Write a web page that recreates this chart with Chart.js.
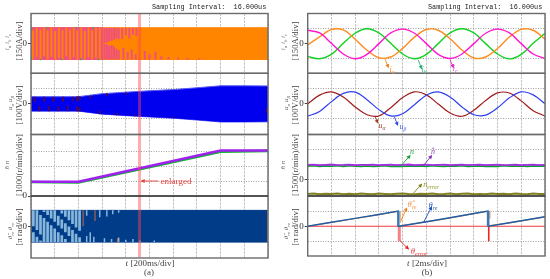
<!DOCTYPE html>
<html>
<head>
<meta charset="utf-8">
<script src="https://cdn.jsdelivr.net/npm/chart.js@4"></script>
<style>
  html, body { margin: 0; padding: 0; background: #fff; }
  #page { position: relative; width: 550px; height: 279px; overflow: hidden; }
  canvas { position: absolute; top: 0; }
  .t { position: absolute; white-space: nowrap; font-family: "Liberation Serif", serif; color: #444; transform: translate(-50%, -50%); line-height: 1; }
  .t sub { font-size: 70%; vertical-align: -2px; line-height: 0; }
  .rot { transform: translate(-50%, -50%) rotate(-90deg); }
  .mono { font-family: "Liberation Mono", monospace; font-size: 6.8px; color: #222; transform: translateY(-50%); }
</style>
</head>
<body>
<div id="page">
  <canvas id="chart-a" width="275" height="279" style="left:0"></canvas>
  <canvas id="chart-b" width="275" height="279" style="left:275px"></canvas>

  <div class="t mono" style="left:152px;top:7px">Sampling Interval:&nbsp;&nbsp;16.000us</div>
  <div class="t mono" style="left:428px;top:7px">Sampling Interval:&nbsp;&nbsp;16.000us</div>

  <div class="t rot" style="left:7px;top:42px;font-size:7px;color:#666"><i>i<sub>a</sub> i<sub>b</sub> i<sub>c</sub></i></div>
  <div class="t rot" style="left:19px;top:41px;font-size:8.8px">[150A/div]</div>
  <div class="t rot" style="left:10px;top:103px;font-size:7px;color:#666"><i>u<sub>α</sub> u<sub>β</sub></i></div>
  <div class="t rot" style="left:19px;top:105px;font-size:8.8px">[100V/div]</div>
  <div class="t rot" style="left:7px;top:165px;font-size:7px;color:#666"><i>n̂ n</i></div>
  <div class="t rot" style="left:19px;top:165px;font-size:8.8px">[1000(r/min)/div]</div>
  <div class="t rot" style="left:10px;top:231px;font-size:7px;color:#666"><i>θ̂<sub>re</sub> θ<sub>re</sub></i></div>
  <div class="t rot" style="left:19px;top:227px;font-size:8.8px">[π rad/div]</div>

  <div class="t rot" style="left:283px;top:42px;font-size:7px;color:#666"><i>i<sub>a</sub> i<sub>b</sub> i<sub>c</sub></i></div>
  <div class="t rot" style="left:295px;top:41px;font-size:8.8px">[150A/div]</div>
  <div class="t rot" style="left:286px;top:103px;font-size:7px;color:#666"><i>u<sub>α</sub> u<sub>β</sub></i></div>
  <div class="t rot" style="left:295px;top:105px;font-size:8.8px">[100V/div]</div>
  <div class="t rot" style="left:283px;top:165px;font-size:7px;color:#666"><i>n̂ n</i></div>
  <div class="t rot" style="left:295px;top:165px;font-size:8.8px">[1500(r/min)/div]</div>
  <div class="t rot" style="left:286px;top:231px;font-size:7px;color:#666"><i>θ̂<sub>re</sub> θ<sub>re</sub></i></div>
  <div class="t rot" style="left:295px;top:227px;font-size:8.8px">[π rad/div]</div>

  <div class="t" style="left:176px;top:181px;font-size:9px;color:#e8403a">enlarged</div>
  <div class="t" style="left:150px;top:263px;font-size:9px"><i>t</i> [200ms/div]</div>
  <div class="t" style="left:149px;top:272px;font-size:9px">(a)</div>
  <div class="t" style="left:427px;top:263px;font-size:9px"><i>t</i> [2ms/div]</div>
  <div class="t" style="left:427px;top:272px;font-size:9px">(b)</div>

  <div class="t" style="left:392px;top:70px;font-size:8px;color:#f08a30"><i>i<sub>a</sub></i></div>
  <div class="t" style="left:424px;top:70px;font-size:8px;color:#30b080"><i>i<sub>b</sub></i></div>
  <div class="t" style="left:455px;top:69px;font-size:8px;color:#e040c0"><i>i<sub>c</sub></i></div>
  <div class="t" style="left:382px;top:126px;font-size:8px;color:#a04030"><i>u<sub>α</sub></i></div>
  <div class="t" style="left:403px;top:127px;font-size:8px;color:#4060e0"><i>u<sub>β</sub></i></div>
  <div class="t" style="left:412px;top:152px;font-size:8px;color:#20a040"><i>n</i></div>
  <div class="t" style="left:433px;top:152px;font-size:8px;color:#9040c0"><i>n̂</i></div>
  <div class="t" style="left:431px;top:185px;font-size:8px;color:#909030"><i>n<sub>error</sub></i></div>
  <div class="t" style="left:412px;top:204px;font-size:8.5px;color:#f09040"><i>θ̂<sub>re</sub></i></div>
  <div class="t" style="left:433px;top:205px;font-size:8.5px;color:#3060c0"><i>θ<sub>re</sub></i></div>
  <div class="t" style="left:419px;top:251px;font-size:8.5px;color:#e83030"><i>θ<sub>error</sub></i></div>
</div>

<script>
  // time axis samples, in divisions
  const halfDivs = [0, .5, 1, 1.5, 2, 2.5, 3, 3.5, 4, 4.5, 5, 5.5, 6, 6.5, 7, 7.5, 8, 8.5, 9, 9.5, 10];
  const quarterDivs = [0, .25, .5, .75, 1, 1.25, 1.5, 1.75, 2, 2.25, 2.5, 2.75, 3, 3.25, 3.5, 3.75, 4, 4.25, 4.5, 4.75, 5,
    5.25, 5.5, 5.75, 6, 6.25, 6.5, 6.75, 7, 7.25, 7.5, 7.75, 8, 8.25, 8.5, 8.75, 9, 9.25, 9.5, 9.75, 10];

  // (a) currents: envelope, then stripes as [t, low, high]
  const currentT = [0, 10];
  const currentUpper = [1.07, 1.07];
  const currentLower = [-1.07, -1.07];
  const pinkT = [0, 3.05];
  const pinkUpper = [1.07, 1.07];
  const pinkLower = [-1.07, -1.07];
  const orangeStripes = [
    [.08, -1.07, .9], [.24, -.9, 1.07], [.4, -1.07, .95], [.55, -.85, 1.07], [.7, -1.07, .9], [.86, -.9, 1.07], [1.02, -1.07, .85],
    [1.18, -.95, 1.07], [1.33, -1.07, .9], [1.49, -.85, 1.07], [1.65, -1.07, .95], [1.8, -.9, 1.07], [1.96, -1.07, .9], [2.12, -.95, 1.07],
    [2.27, -1.07, .85], [2.43, -.9, 1.07], [2.58, -1.07, .9], [2.74, -.95, 1.07], [2.9, -1.07, 1.07]
  ];
  const pinkStripes = [
    [3.1, .02, 1.07], [3.2, .08, 1.07], [3.3, .15, 1.07], [3.4, .2, 1.07], [3.5, .25, 1.07], [3.6, .35, 1.07], [3.7, .3, 1.07],
    [3.1, -1.07, -.02], [3.2, -1.07, -.05], [3.3, -1.07, -.15], [3.4, -1.07, -.1], [3.5, -1.07, -.2], [3.6, -1.07, -.35], [3.7, -1.07, -.45],
    [3.85, .3, 1.07], [4, .55, 1.07], [4.15, .35, 1.07], [4.3, .6, 1.07], [4.45, .5, 1.07], [3.9, -1.07, -.3], [4.08, -1.07, -.55],
    [4.25, -1.07, -.4], [4.42, -1.07, -.7], [4.8, -1.07, -.5], [5, -1.07, -.7], [5.25, -1.07, -.55], [5.5, -1.07, -.85], [5.8, -1.07, -.9],
    [6.2, -1.07, -.95], [6.6, -1.07, -.97], [7.1, -1.07, -.98]
  ];
  const greenDots = [
    [.02, .85, 1.12], [.02, -1.12, -.85], [.7, 1, 1.12], [1.3, -1.12, -1], [1.9, 1, 1.12], [2.6, 1, 1.12], [.4, -1.12, -1], [2.1, -1.12, -1], [2.85, -1.12, -1]
  ];

  // (a) voltages
  const voltageT = [0, 2, 2.5, 3, 4, 5, 6, 7, 8, 9, 10];
  const voltageUpper = [.48, .48, .58, .68, .78, .87, .95, 1.07, 1.2, 1.2, 1.19];
  const voltageLower = [-.48, -.48, -.58, -.68, -.78, -.87, -.95, -1.07, -1.2, -1.2, -1.19];
  const maroonStripes = [
    [.15, .12, .48], [.35, -.48, -.15], [.55, .15, .48], [.75, -.48, -.12], [.95, .12, .48], [1.15, -.48, -.15], [1.35, .15, .48], [1.55, -.48, -.12],
    [1.75, .18, .48], [1.95, .18, .5], [2.05, .22, .5], [1.95, -.5, -.18], [2.05, -.5, -.22], [2.5, .35, .55], [2.9, -.68, -.45],
    [3.2, .5, .7], [3.6, -.76, -.6], [4, .62, .78], [4.4, -.82, -.7], [6, -.95, -.85], [9.95, -.6, -.3]
  ];

  // (a) speed
  const speedEstT = [0, 2, 8, 10];
  const speedEst = [.95, .95, 3.03, 3.03];
  const speedT = [0, 2, 8, 10];
  const speedReal = [.93, .9, 2.95, 3.01];

  // (a) rotor angle
  const angleT = [0, 10];
  const angleUpper = [1.05, 1.05];
  const angleLower = [-1.05, -1.05];
  const lightStripes = [
    [.1, 0, 1.05], [.1, -1.05, -.4], [.25, -.25, 1.05], [.25, -1.05, -.7], [.4, -.55, .75], [.4, -1.05, -.95],
    [.55, -1.05, .55], [.55, .95, 1.05], [.7, -1.05, .3], [.7, .75, 1.05], [.85, -1.05, .07], [.85, .52, 1.05],
    [1, -1.05, -.15], [1, .3, 1.05], [1.15, -1.05, -.4], [1.15, .05, .7], [1.3, -1.05, -.6], [1.3, -.15, .45], [1.3, .85, 1.05],
    [1.45, -1.05, -.85], [1.45, -.4, .2], [1.45, .62, 1.05], [1.6, -.65, -.02], [1.6, .4, 1.05], [1.75, -1.05, -.25], [1.75, .15, 1.05],
    [1.9, -1.05, -.5], [1.9, -.08, 1.05], [2.05, -1.05, -.73], [2.05, -.3, 1.05]
  ];
  const lightTicks = [
    [2.35, -1.05, -.65], [2.5, -1.05, -.4], [2.65, -1.05, -.7],
    [2.35, .7, 1.05], [2.9, .6, 1.05], [3.2, .65, 1.05], [3.45, .8, 1.05], [3.7, .9, 1.05], [3.1, -1.05, -.8], [3.4, -1.05, -.85], [3.7, -1.05, -.75],
    [4, -1.05, -.9], [4.3, -1.05, -.85], [4.6, -1.05, -.95], [5.2, -1.05, -.95]
  ];
  const brownStripes = [[2.2, 0, 1.05], [2.7, .35, 1.05], [3.65, -1.05, -.8], [9.98, -1.05, 1.05]];

  const markerT = [4.58, 4.58];
  const markerY = [-4.1, 12.2];

  // (b) currents
  const currentA = [-.08, .45, .95, .92, .3, -.45, -.95, -.9, -.32, .44, .95, .9, .33, -.43, -.97, -.9, -.33, .45, .96, .9, .3];
  const currentB = [-.86, -1.02, -.72, .02, .7, 1, .72, .02, -.7, -1.02, -.72, 0, .72, 1, .72, 0, -.7, -1.03, -.72, .02, .7];
  const currentC = [.9, .72, .02, -.7, -1.02, -.72, 0, .72, .98, .7, 0, -.72, -1, -.7, 0, .7, .98, .72, 0, -.7, -1];

  // (b) voltages
  const voltageAlpha = [0, .58, .8, .46, -.2, -.72, -.8, -.25, .42, .8, .6, 0, -.6, -.82, -.42, .23, .73, .72, .2, -.45, -.8];
  const voltageBeta = [-.82, -.5, .15, .7, .78, .28, -.38, -.8, -.65, -.05, .58, .8, .46, -.2, -.72, -.74, -.26, .4, .8, .6, .02];

  // (b) speed, one value per quarter division
  const speedEstB = [1, 1.02, .98, 1.01, 1.03, .99, 1, 1.02, .98, 1.01, 1, 1.02, .98, 1, 1.02, .99, 1.01, 1.03, .98, 1, 1.02,
    .99, 1.01, 1.02, .98, 1, 1.02, .99, 1.01, 1.02, .98, 1, 1.02, .99, 1, 1.02, .98, 1.01, 1.02, .99, 1];
  const speedRealB = [.93, .95, .91, .94, .92, .95, .9, .95, .92, .91, .94, .9, .93, .95, .91, .93, .9, .94, .92, .94, .91,
    .95, .92, .9, .94, .93, .95, .91, .92, .94, .91, .93, .9, .95, .92, .93, .94, .91, .94, .92, .93];
  const speedError = [-.93, -.91, -.95, -.92, -.94, -.9, -.95, -.92, -.96, -.91, -.93, -.95, -.91, -.93, -.95, -.92, -.9, -.94, -.96, -.92, -.93,
    -.91, -.95, -.93, -.9, -.95, -.92, -.91, -.95, -.93, -.96, -.91, -.94, -.92, -.95, -.9, -.93, -.95, -.91, -.93, -.94];

  // (b) rotor angle
  const thetaT = [0, 1, 2, 3, 3.82, 3.82, 3.86, 5, 6, 7, 7.6, 7.6, 7.64, 8.5, 10];
  const thetaRe = [0, .26, .52, .78, 1, 0, 0, .3, .56, .84, 1, 0, 0, .23, .63];
  const thetaEst = [0, .25, .51, .77, .99, .02, .02, .29, .55, .83, .99, .02, .02, .22, .62];
  const errorT = [0, 10];
  const errorVal = [0, 0];
  const errorPinkSpike = [[3.86, -1, 0]];
  const errorRedSpike = [[7.63, -1, 0]];
  const dropBlue = [[3.82, 0, 1], [7.6, 0, 1]];
  const dropOrange = [[3.9, .4, 1], [7.68, .5, 1]];

  // arrows as [fromT, fromY, toT, toY, colour], in axis units
  const arrowsA = { y2: [[5.37, 1, 4.67, 1, '#e8403a']] };
  const arrowsB = {
    y0: [[3.26, -1.05, 3.4, -1.6, '#f08020'], [4.66, -1.1, 4.8, -1.68, '#20b070'], [6, -1.1, 6.14, -1.6, '#e020c0']],
    y1: [[2.84, -.85, 2.95, -1.24, '#a04020'], [3.65, -.85, 3.79, -1.4, '#3050e0']],
    y2: [[3.93, .95, 4.31, 1.62, '#10a030'], [4.87, .95, 5.22, 1.62, '#8030b0'], [4.45, -.89, 4.8, -.29, '#808020']],
    y3: [[3.89, .22, 4.17, 1.2, '#f08020'], [4.87, .22, 5.22, 1.27, '#2050c0'], [3.89, -.96, 4.24, -1.5, '#e82020']]
  };

  function pts(xs, ys) {
    return xs.map((x, i) => ({ x: x, y: ys[i] }));
  }

  function stripes(list) {
    return list.flatMap(s => [{ x: s[0], y: s[1] }, { x: s[0], y: s[2] }, { x: s[0], y: null }]);
  }

  function line(axis, data, color, width, extra) {
    return Object.assign({ yAxisID: axis, data: data, borderColor: color, borderWidth: width, pointRadius: 0, tension: 0, fill: false }, extra || {});
  }

  function band(axis, xs, upper, lower, color, edge) {
    return [
      line(axis, pts(xs, upper), edge || color, 1, { fill: '+1', backgroundColor: color }),
      line(axis, pts(xs, lower), edge || color, 1)
    ];
  }

  const frames = {
    id: 'frames',
    afterDraw(chart, args, opts) {
      const c = chart.ctx, area = chart.chartArea;
      ['y0', 'y1', 'y2', 'y3'].forEach(id => {
        const s = chart.scales[id];
        c.save();
        c.strokeStyle = '#6a6a6a';
        c.lineWidth = 1.4;
        c.strokeRect(area.left, s.top, area.right - area.left, s.bottom - s.top);
        c.restore();
      });
      const s3 = chart.scales.y3;
      c.save();
      c.strokeStyle = '#333';
      c.lineWidth = 1.2;
      c.beginPath();
      c.moveTo(area.left, s3.top);
      c.lineTo(area.right, s3.top);
      c.stroke();
      c.restore();
      Object.keys(opts.arrows || {}).forEach(id => {
        opts.arrows[id].forEach(a => {
          const x0 = chart.scales.x.getPixelForValue(a[0]), y0 = chart.scales[id].getPixelForValue(a[1]);
          const x1 = chart.scales.x.getPixelForValue(a[2]), y1 = chart.scales[id].getPixelForValue(a[3]);
          const ang = Math.atan2(y1 - y0, x1 - x0);
          c.save();
          c.strokeStyle = a[4];
          c.fillStyle = a[4];
          c.lineWidth = 0.9;
          c.beginPath();
          c.moveTo(x0, y0);
          c.lineTo(x1, y1);
          c.stroke();
          c.translate(x1, y1);
          c.rotate(ang);
          c.beginPath();
          c.moveTo(1, 0);
          c.lineTo(-3, -2);
          c.lineTo(-3, 2);
          c.closePath();
          c.fill();
          c.restore();
        });
      });
    }
  };

  function yAxis(range, weight, vals, axisWidth, dotZero) {
    return {
      type: 'linear',
      position: 'left',
      stack: 'col',
      stackWeight: weight,
      min: range[0],
      max: range[1],
      afterFit: s => { s.width = axisWidth; },
      afterBuildTicks: s => { s.ticks = vals.map(v => ({ value: v })); },
      border: { display: false, dash: [1, 1.5] },
      grid: {
        color: ctx => (ctx.tick && ctx.tick.value === 0 && !dotZero) ? 'transparent' : '#a0a0a0',
        tickColor: ctx => (ctx.tick && ctx.tick.value === 0) ? '#444' : 'transparent',
        tickLength: 3,
        lineWidth: 1
      },
      ticks: {
        autoSkip: false,
        padding: 1,
        color: '#333',
        font: { family: 'Liberation Serif', size: 9 },
        callback: v => (v === 0 ? '0' : '')
      }
    };
  }

  function makeChart(id, datasets, scales, padding, arrows) {
    return new Chart(document.getElementById(id), {
      type: 'line',
      data: { datasets: datasets },
      options: {
        responsive: false,
        animation: false,
        parsing: { xAxisKey: 'x', yAxisKey: 'y' },
        layout: { padding: padding },
        plugins: { legend: { display: false }, tooltip: { enabled: false }, frames: { arrows: arrows } },
        scales: Object.assign({
          x: {
            type: 'linear',
            min: 0,
            max: 10,
            border: { display: false, dash: [2.5, 1] },
            grid: { color: '#c4c4c4', lineWidth: 1, drawTicks: false },
            ticks: { display: false, stepSize: 1 }
          }
        }, scales)
      },
      plugins: [frames]
    });
  }

  // first dataset in the list is drawn on top
  const datasetsA = [
    line('y2', pts(markerT, markerY), 'rgba(255,70,80,.45)', 3, { clip: false }),
    line('y0', stripes(greenDots), '#20c030', 1.2),
    line('y0', stripes(pinkStripes), '#f0507e', 2),
    line('y0', stripes(orangeStripes), '#ff8400', 1.8),
    ...band('y0', pinkT, pinkUpper, pinkLower, '#f0507e'),
    ...band('y0', currentT, currentUpper, currentLower, '#ff8400'),
    line('y1', stripes(maroonStripes), '#4a0a5a', 1.9),
    ...band('y1', voltageT, voltageUpper, voltageLower, '#0000ee', '#5a5af5'),
    line('y2', pts(speedEstT, speedEst), '#a020f0', 2.6),
    line('y2', pts(speedT, speedReal), '#10b030', 2.6),
    line('y3', stripes(brownStripes), '#b06a50', 1.1),
    line('y3', stripes(lightTicks), '#86b6da', 1.5),
    line('y3', stripes(lightStripes), '#86b6da', 2.7),
    ...band('y3', angleT, angleUpper, angleLower, '#003c88')
  ];

  makeChart('chart-a', datasetsA, {
    y3: yAxis([-2.1, 2], 62, [-1, 0, 1], 31, false),
    y2: yAxis([0, 4.1], 61.5, [0, 1, 2, 3], 31, true),
    y1: yAxis([-2.03, 2.03], 61.2, [-1, 0, 1], 31, false),
    y0: yAxis([-2, 2.03], 59.8, [-1, 0, 1], 31, false)
  }, { left: 0, top: 13.5, right: 7, bottom: 21 }, arrowsA);

  const datasetsB = [
    line('y0', pts(halfDivs, currentC), '#ff14d0', 1.4, { tension: .35 }),
    line('y0', pts(halfDivs, currentA), '#ff8c20', 1.4, { tension: .35 }),
    line('y0', pts(halfDivs, currentB), '#10d020', 1.4, { tension: .35 }),
    line('y1', pts(halfDivs, voltageBeta), '#3040f0', 1.2, { tension: .35 }),
    line('y1', pts(halfDivs, voltageAlpha), '#a01c1c', 1.2, { tension: .35 }),
    line('y2', pts(quarterDivs, speedEstB), '#a030e0', 1.8),
    line('y2', pts(quarterDivs, speedRealB), '#10a030', 1.8),
    line('y2', pts(quarterDivs, speedError), '#808020', 2),
    line('y3', stripes(dropBlue), '#3a78b8', 2.4),
    line('y3', pts(thetaT, thetaRe), '#1f5fa8', 1.4),
    line('y3', pts(thetaT, thetaEst), '#f08a40', 1.2),
    line('y3', stripes(dropOrange), '#f09a50', 1),
    line('y3', stripes(errorRedSpike), '#f02028', 1.6),
    line('y3', stripes(errorPinkSpike), '#f88088', 3),
    line('y3', pts(errorT, errorVal), '#f4383c', 1.2)
  ];

  makeChart('chart-b', datasetsB, {
    y3: yAxis([-1.97, 2], 60, [-1, 0, 1], 32.7, false),
    y2: yAxis([-1.07, 3.03], 61.5, [0, 1, 2], 32.7, true),
    y1: yAxis([-2.03, 2.03], 61.2, [-1, 0, 1], 32.7, false),
    y0: yAxis([-2, 2.03], 59.8, [-1, 0, 1], 32.7, false)
  }, { left: 0, top: 13.5, right: 5, bottom: 23 }, arrowsB);
</script>
</body>
</html>
